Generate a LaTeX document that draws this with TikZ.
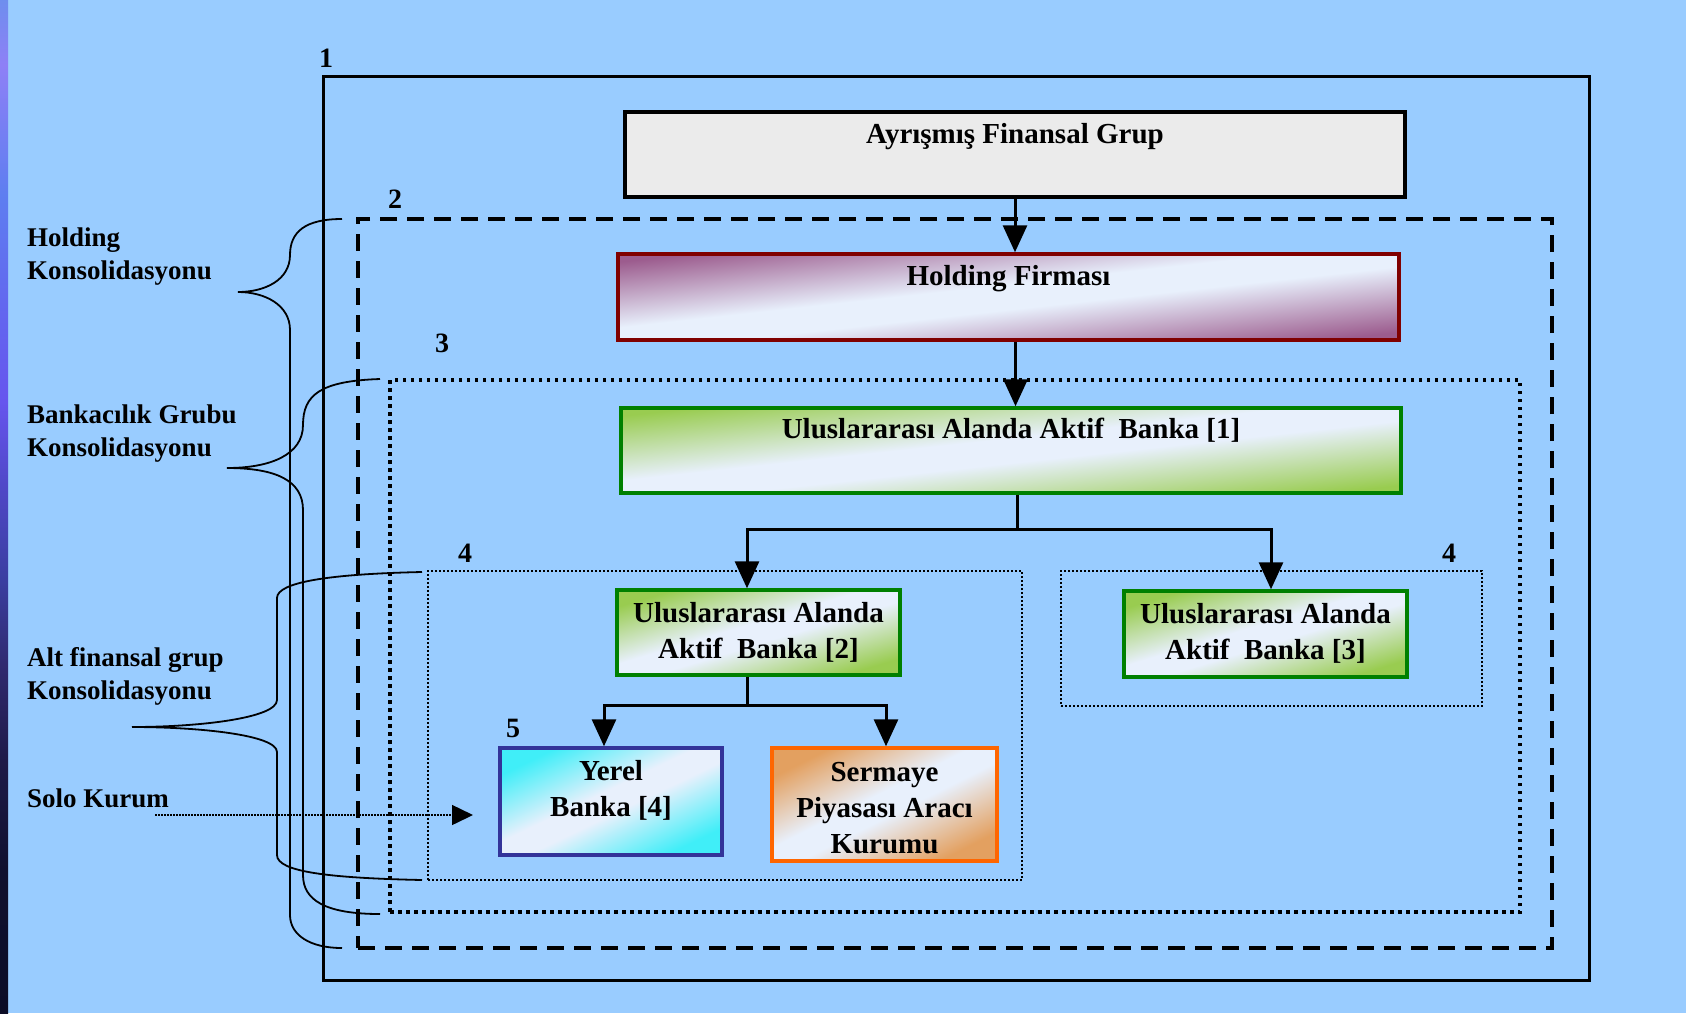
\documentclass[tikz,border=0pt]{standalone}
\usepackage{fontspec}
\setmainfont{Liberation Serif}
\usetikzlibrary{arrows.meta,calc}
\definecolor{bg}{HTML}{99CCFF}
\definecolor{lightB}{HTML}{E8F0FC}
\definecolor{holdP}{HTML}{9C5C8E}
\definecolor{greenP}{HTML}{99CC50}
\definecolor{cyanP}{HTML}{40EEF8}
\definecolor{orangeP}{HTML}{E3A060}
\definecolor{ayrF}{HTML}{EBEBEB}
\definecolor{holdB}{HTML}{800000}
\definecolor{greenB}{HTML}{008000}
\definecolor{blueB}{HTML}{333399}
\definecolor{orangeB}{HTML}{FF6600}
\definecolor{s0}{HTML}{6E8EEE}
\definecolor{s1}{HTML}{8E80F6}
\definecolor{s2}{HTML}{5E7EF0}
\definecolor{s3}{HTML}{6655EE}
\definecolor{s4}{HTML}{5048C8}
\definecolor{s5}{HTML}{3A3EA0}
\definecolor{s6}{HTML}{302A70}
\definecolor{s7}{HTML}{1E1A48}
\definecolor{s8}{HTML}{10102E}
\definecolor{s9}{HTML}{0C0C26}
\pgfdeclareverticalshading{stripshade}{100bp}{color(0bp)=(s9); color(25bp)=(s9); color(32bp)=(s8); color(37.4bp)=(s7); color(42.2bp)=(s6); color(46.3bp)=(s5); color(51.1bp)=(s4); color(55.2bp)=(s3); color(65.4bp)=(s2); color(71.8bp)=(s1); color(75bp)=(s0); color(100bp)=(s0)}
\pgfdeclareverticalshading{holdshade}{100bp}{color(0bp)=(holdP); color(25bp)=(holdP); color(46bp)=(lightB); color(54bp)=(lightB); color(75bp)=(holdP); color(100bp)=(holdP)}
\pgfdeclareverticalshading{greenshade}{100bp}{color(0bp)=(greenP); color(25bp)=(greenP); color(46bp)=(lightB); color(54bp)=(lightB); color(75bp)=(greenP); color(100bp)=(greenP)}
\pgfdeclareverticalshading{cyanshade}{100bp}{color(0bp)=(cyanP); color(25bp)=(cyanP); color(46bp)=(lightB); color(54bp)=(lightB); color(75bp)=(cyanP); color(100bp)=(cyanP)}
\pgfdeclareverticalshading{orangeshade}{100bp}{color(0bp)=(orangeP); color(25bp)=(orangeP); color(46bp)=(lightB); color(54bp)=(lightB); color(75bp)=(orangeP); color(100bp)=(orangeP)}
\tikzset{
  boxbase/.style={rectangle, inner sep=0pt, line width=3.5pt},
  ayrbox/.style={boxbase, draw=black, fill=ayrF},
  holdbox/.style={boxbase, draw=holdB, shade, shading=holdshade},
  greenbox/.style={boxbase, draw=greenB, shade, shading=greenshade},
  cyanbox/.style={boxbase, draw=blueB, shade, shading=cyanshade},
  orangebox/.style={boxbase, draw=orangeB, shade, shading=orangeshade},
  frameA/.style={rectangle, draw=black, line width=3pt, inner sep=0pt},
  frameB/.style={rectangle, draw=black, line width=3.5pt, dash pattern=on 17pt off 10pt, inner sep=0pt},
  frameC/.style={rectangle, draw=black, line width=3.5pt, dash pattern=on 3.5pt off 4.5pt, inner sep=0pt},
  frameD/.style={rectangle, draw=black, line width=2pt, dash pattern=on 2pt off 2pt, inner sep=0pt},
  boxtext/.style={font=\fontsize{29}{36}\selectfont\bfseries, align=center, inner sep=0pt, anchor=base},
  sidetext/.style={font=\fontsize{27}{33}\selectfont\bfseries, align=left, inner sep=0pt, anchor=base west},
  numtext/.style={font=\fontsize{28}{33}\selectfont\bfseries, inner sep=0pt, anchor=base},
  arr/.style={line width=3pt, -{Triangle[length=27pt,width=24pt]}},
  plainline/.style={line width=3pt},
  bracestyle/.style={line width=1.8pt},
  soloarr/.style={line width=1.5pt, dash pattern=on 1.5pt off 1.5pt, -{Triangle[length=21pt,width=20pt]}}
}
\begin{document}
\begin{tikzpicture}[x=1pt,y=-1pt]
\useasboundingbox (0,0) rectangle (1686,1013);
\fill[bg] (0,0) rectangle (1686,1013);
\shade[shading=stripshade] (0,0) rectangle (8,1013);

% frames
\node[frameA, minimum width=1266pt, minimum height=904pt] (g1) at (956,528) {};
\node[frameB, minimum width=1194pt, minimum height=729pt] (g2) at (955,583.5) {};
\node[frameC, minimum width=1130pt, minimum height=532pt] (g3) at (955,646) {};
\node[frameD, minimum width=594pt, minimum height=309pt] (g4a) at (725,725.5) {};
\node[frameD, minimum width=421pt, minimum height=135pt] (g4b) at (1271.5,638.5) {};

% numbers
\node[numtext] (n1) at (326,67) {1};
\node[numtext] (n2) at (395,208) {2};
\node[numtext] (n3) at (442,352) {3};
\node[numtext] (n4a) at (465,562) {4};
\node[numtext] (n4b) at (1449,562) {4};
\node[numtext] (n5) at (513,737) {5};

% boxes
\node[ayrbox, minimum width=780pt, minimum height=85pt] (ayr) at (1015,154.5) {};
\node[holdbox, shading angle=6.3, minimum width=781pt, minimum height=86pt] (hold) at (1008.5,297) {};
\node[greenbox, shading angle=6.2, minimum width=780pt, minimum height=85pt] (b1) at (1011,450.5) {};
\node[greenbox, shading angle=16.7, minimum width=283pt, minimum height=85pt] (b2) at (758.5,632.5) {};
\node[greenbox, shading angle=16.9, minimum width=283pt, minimum height=86pt] (b3) at (1265.5,634) {};
\node[cyanbox, shading angle=25.7, minimum width=222pt, minimum height=107pt] (yerel) at (611,801.5) {};
\node[orangebox, shading angle=26.7, minimum width=225pt, minimum height=113pt] (serm) at (884.5,804.5) {};

% box texts (anchor base = last line)
\node[boxtext] (ayrT) at (1015,143) {Ayrışmış Finansal Grup};
\node[boxtext] (holdT) at (1008.5,285) {Holding Firması};
\node[boxtext] (b1T) at (1011,438) {Uluslararası Alanda Aktif~ Banka [1]};
\node[boxtext] (b2T) at (758.5,658) {Uluslararası Alanda\\Aktif~ Banka [2]};
\node[boxtext] (b3T) at (1265.5,659) {Uluslararası Alanda\\Aktif~ Banka [3]};
\node[boxtext] (yerelT) at (611,816) {Yerel\\Banka [4]};
\node[boxtext] (sermT) at (884.5,853) {Sermaye\\Piyasası Aracı\\Kurumu};

% side labels
\node[sidetext] (l1) at (27,279) {Holding\\Konsolidasyonu};
\node[sidetext] (l2) at (27,456) {Bankacılık Grubu\\Konsolidasyonu};
\node[sidetext] (l3) at (27,699) {Alt finansal grup\\Konsolidasyonu};
\node[sidetext] (l4) at (27,807) {Solo Kurum};

% connectors
\draw[arr] (ayr.south) -- (ayr.south |- hold.north);
\draw[arr] ([xshift=7pt]hold.south) -- ([xshift=7pt]hold.south |- b1.north);
\coordinate (j1) at ($(b1.south)+(6,35)$);
\draw[plainline] ([xshift=6pt]b1.south) -- (j1);
\draw[arr] (j1) -| ([xshift=-11.5pt]b2.north);
\draw[arr] (j1) -| ([xshift=5.5pt]b3.north);
\coordinate (j2) at ($(b2.south)+(-11.5,29)$);
\draw[plainline] ([xshift=-11.5pt]b2.south) -- (j2);
\draw[arr] (j2) -| ([xshift=-7pt]yerel.north);
\draw[arr] (j2) -| ([xshift=1.5pt]serm.north);

% solo arrow
\coordinate (s0) at (155,815);
\coordinate (s1) at (473,815);
\draw[soloarr] (s0) -- (s1);

% braces
\draw[bracestyle] (342,219) .. controls (305,219) and (290,232) .. (290,255)
  .. controls (290,280) and (265,292) .. (238,292)
  .. controls (265,292) and (290,305) .. (290,330) -- (290,915)
  .. controls (290,935) and (310,948) .. (342,948);
\draw[bracestyle] (380,379) .. controls (320,381) and (303,395) .. (303,425)
  .. controls (303,455) and (270,468) .. (227,468)
  .. controls (275,468) and (303,480) .. (303,510) -- (303,875)
  .. controls (303,900) and (325,914) .. (380,914);
\draw[bracestyle] (422,572) .. controls (330,574) and (277,582) .. (277,598) -- (277,700)
  .. controls (277,718) and (200,727) .. (132,727)
  .. controls (200,727) and (277,735) .. (277,752) -- (277,855)
  .. controls (277,872) and (330,878) .. (422,880);
\end{tikzpicture}
\end{document}
